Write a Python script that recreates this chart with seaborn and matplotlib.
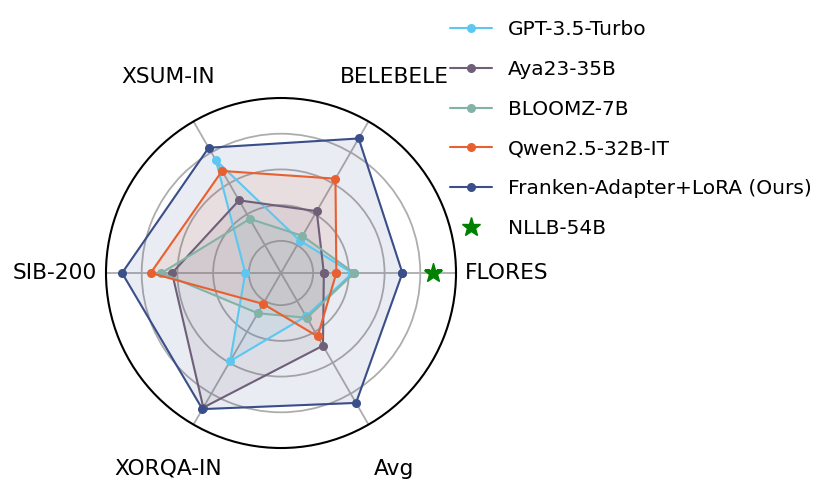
import numpy as np
import pandas as pd
import matplotlib
matplotlib.use("Agg")
import matplotlib.pyplot as plt
import seaborn as sns
from matplotlib.lines import Line2D

tasks = ["FLORES", "BELEBELE", "XSUM-IN", "SIB-200", "XORQA-IN", "Avg"]
models = ["GPT-3.5-Turbo", "Aya23-35B", "BLOOMZ-7B", "Qwen2.5-32B-IT", "Franken-Adapter+LoRA (Ours)"]

gpt35 = [0.42, 0.23, 0.75, 0.22, 0.59, 0.30]
aya23 = [0.26, 0.42, 0.49, 0.63, 0.89, 0.49]
bloomz = [0.43, 0.26, 0.37, 0.69, 0.28, 0.31]
qwen = [0.33, 0.63, 0.68, 0.75, 0.22, 0.43]
franken = [0.70, 0.89, 0.83, 0.91, 0.90, 0.86]
nllb_flores = 0.87

colors = ["#5CC8F2", "#6F5F78", "#82B3A6", "#E8602F", "#3A4E8A"]
series = [gpt35, aya23, bloomz, qwen, franken]

angles = np.linspace(0, 2 * np.pi, len(tasks), endpoint=False)

rows = []
for m, vals in zip(models, series):
    for i in range(len(tasks) + 1):
        k = i % len(tasks)
        rows.append({"model": m, "theta": angles[k] if i < len(tasks) else 2 * np.pi, "score": vals[k]})
df = pd.DataFrame(rows)

sns.set_theme(style="white")
plt.rcParams["font.family"] = ["DejaVu Sans"]
plt.rcParams["text.color"] = "black"

fig = plt.figure(figsize=(8.3, 4.92), dpi=100)
ax = fig.add_axes([0.1277, 0.0894, 0.4217, 0.7114], projection="polar")

for m, c in zip(models, colors):
    d = df[df["model"] == m]
    sns.lineplot(data=d, x="theta", y="score", ax=ax, sort=False, estimator=None,
                 color=c, linewidth=1.5, marker="o", markersize=6.5,
                 markeredgewidth=0, label=None, legend=False)
    ax.fill(d["theta"], d["score"], color=c, alpha=0.1)

ax.plot([0], [nllb_flores], marker="*", color="green", markersize=14, linestyle="none")

ax.set_ylim(0.02, 1.0)
ax.set_yticks([0.2, 0.4, 0.6, 0.8])
ax.set_yticklabels([])
ax.set_xticks(angles)
ax.set_xticklabels([])
ax.grid(True, color="#adadad", linewidth=1.3)
ax.spines["polar"].set_color("black")
ax.spines["polar"].set_linewidth(1.5)
ax.set_xlabel("")
ax.set_ylabel("")

for a, t in zip(angles, tasks):
    ax.text(a, 1.286, t, ha="center", va="center", fontsize=15.7, color="black", clip_on=False)

handles = [Line2D([0], [0], color=c, linewidth=1.5, marker="o", markersize=6.5, markeredgewidth=0)
           for c in colors]
handles.append(Line2D([0], [0], color="green", marker="*", markersize=14, linestyle="none"))
leg = fig.legend(handles, models + ["NLLB-54B"], loc="upper left", bbox_to_anchor=(0.542, 0.959),
                 frameon=False, fontsize=14.5, labelspacing=1.03, handlelength=2.1,
                 handletextpad=0.8, borderpad=0, borderaxespad=0)
for t in leg.get_texts():
    t.set_color("black")

fig.savefig("out.png", dpi=100)
